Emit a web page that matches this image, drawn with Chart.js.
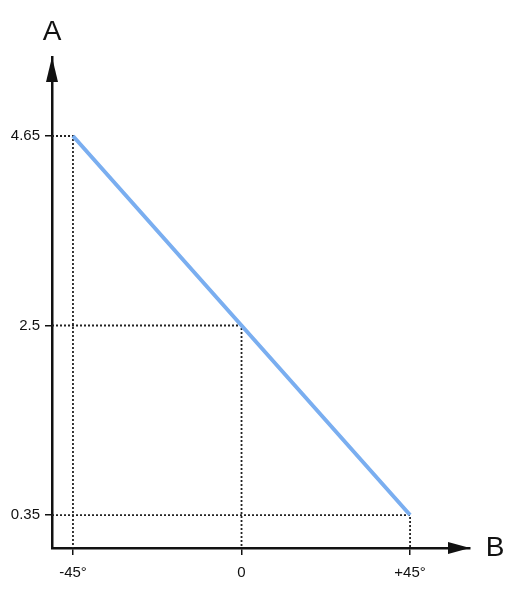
<!DOCTYPE html>
<html>
<head>
<meta charset="utf-8">
<script src="https://cdn.jsdelivr.net/npm/chart.js@4/dist/chart.umd.min.js"></script>
<style>
  html, body { margin: 0; padding: 0; background: #fff; }
  canvas { display: block; }
</style>
</head>
<body>
<canvas id="chart" width="525" height="597"></canvas>
<script>
// Data
const xValues = [-45, 0, 45];
const yValues = [4.65, 2.5, 0.35];
const xLabels = ["-45°", "0", "+45°"];
const yLabels = ["4.65", "2.5", "0.35"];

// Axis names
const X_NAME = "B";
const Y_NAME = "A";

// Scale limits (axis ends at the arrow tips)
const X_MIN = -50.6, X_MAX = 61.0;
const Y_MIN = -0.024, Y_MAX = 5.546;

// Colors
const COLOR_LINE = "#7aaef0";
const COLOR_GUIDE = "#222222";
const COLOR_AXIS = "#111111";

// Main line
const lineData = [];
for (let i = 0; i < xValues.length; i++) {
    lineData.push({ x: xValues[i], y: yValues[i] });
}

// Dotted guides: axis -> point -> x axis
const guideSets = [];
for (let i = 0; i < xValues.length; i++) {
    guideSets.push({
        data: [
            { x: X_MIN, y: yValues[i] },
            { x: xValues[i], y: yValues[i] },
            { x: xValues[i], y: Y_MIN }
        ],
        borderColor: COLOR_GUIDE,
        borderWidth: 1.8,
        borderDash: [2, 2],
        pointRadius: 0,
        tension: 0,
        clip: false,
        order: 2
    });
}

// Draws arrow heads and axis names
const arrowPlugin = {
    id: "arrows",
    afterDraw(chart) {
        const ctx = chart.ctx;
        const a = chart.chartArea;
        ctx.save();
        ctx.fillStyle = COLOR_AXIS;
        // y arrow
        ctx.beginPath();
        ctx.moveTo(a.left, a.top);
        ctx.lineTo(a.left - 6, a.top + 25);
        ctx.lineTo(a.left + 6, a.top + 25);
        ctx.closePath();
        ctx.fill();
        // x arrow
        ctx.beginPath();
        ctx.moveTo(a.right, a.bottom);
        ctx.lineTo(a.right - 22, a.bottom - 6);
        ctx.lineTo(a.right - 22, a.bottom + 6);
        ctx.closePath();
        ctx.fill();
        // names
        ctx.font = "28px 'Liberation Sans', Arial, sans-serif";
        ctx.textAlign = "center";
        ctx.textBaseline = "middle";
        ctx.fillText(Y_NAME, a.left, a.top - 25);
        ctx.fillText(X_NAME, a.right + 25, a.bottom);
        ctx.restore();
    }
};

new Chart("chart", {
    type: "line",
    data: {
        datasets: [{
            data: lineData,
            borderColor: COLOR_LINE,
            borderWidth: 4,
            pointRadius: 0,
            tension: 0,
            order: 1
        }].concat(guideSets)
    },
    options: {
        responsive: false,
        animation: false,
        devicePixelRatio: 1,
        layout: { padding: { top: 57, right: 55, left: 0, bottom: 0 } },
        plugins: {
            legend: { display: false },
            tooltip: { enabled: false }
        },
        scales: {
            x: {
                type: "linear",
                min: X_MIN,
                max: X_MAX,
                afterFit(scale) { scale.height = 49; },
                afterBuildTicks(scale) {
                    scale.ticks = xValues.map(v => ({ value: v }));
                },
                ticks: {
                    autoSkip: false,
                    maxRotation: 0,
                    padding: 9,
                    color: "#111",
                    font: { family: "'Liberation Sans', Arial, sans-serif", size: 15 },
                    callback: (v) => xLabels[xValues.indexOf(v)]
                },
                grid: {
                    drawOnChartArea: false,
                    drawTicks: true,
                    tickLength: 7,
                    color: COLOR_AXIS,
                    lineWidth: 1.5
                },
                border: { display: true, color: COLOR_AXIS, width: 2.5 }
            },
            y: {
                type: "linear",
                min: Y_MIN,
                max: Y_MAX,
                afterFit(scale) { scale.width = 52; },
                afterBuildTicks(scale) {
                    scale.ticks = yValues.map(v => ({ value: v }));
                },
                ticks: {
                    autoSkip: false,
                    padding: 5,
                    color: "#111",
                    font: { family: "'Liberation Sans', Arial, sans-serif", size: 15 },
                    callback: (v) => yLabels[yValues.indexOf(v)]
                },
                grid: {
                    drawOnChartArea: false,
                    drawTicks: true,
                    tickLength: 7,
                    color: COLOR_AXIS,
                    lineWidth: 1.5
                },
                border: { display: true, color: COLOR_AXIS, width: 2.5 }
            }
        }
    },
    plugins: [arrowPlugin]
});
</script>
</body>
</html>
